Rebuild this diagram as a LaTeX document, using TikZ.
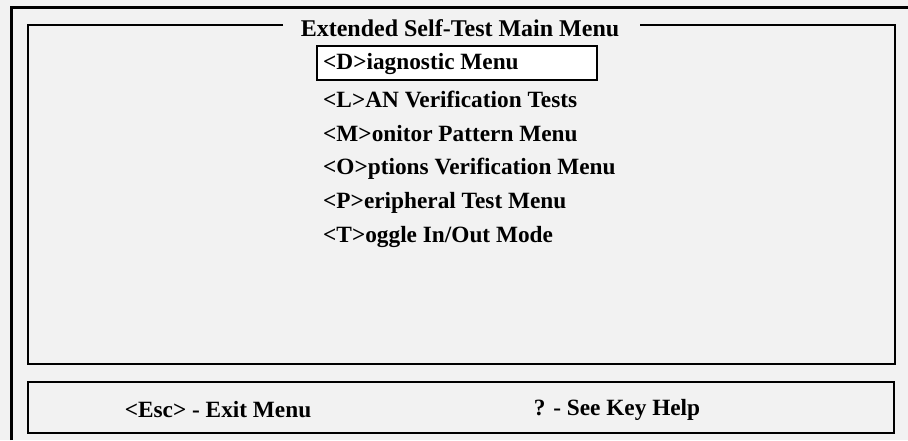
\documentclass[tikz,border=0pt]{standalone}
\usepackage{fontspec}
\setmainfont{Liberation Serif}
\begin{document}
\begin{tikzpicture}[x=1pt,y=-1pt,
  frame/.style={draw=black,line width=2.6pt},
  txt/.style={font=\fontsize{23.3}{25}\bfseries\selectfont,inner sep=0pt,text=black},
  item/.style={txt,anchor=west}]
\useasboundingbox (0,0) rectangle (908,440);
\fill[black!5] (0,0) rectangle (908,440);
% outer frame (top and left only visible)
\draw[line width=3pt] (11,440) -- (11,7) -- (908,7);
% main box
\node[txt,font=\fontsize{24}{26}\bfseries\selectfont] (title) at (460,28) {Extended Self-Test Main Menu};
\coordinate (tl) at (28,25);
\coordinate (tr) at (895,25);
\draw[frame] (283,25) -- (tl) -- (28,364) -- (895,364) -- (tr) -- (640,25);
% selected item box
\node[draw=black,line width=2.4pt,fill=white,minimum width=280pt,minimum height=34pt,inner sep=0pt] (sel) at (457,63) {};
\node[item] (d) at (323,64) {<D>iagnostic Menu};
\node[item] (l) at (323,99) {<L>AN Verification Tests};
\node[item] (m) at (323,134) {<M>onitor Pattern Menu};
\node[item] (o) at (323,169) {<O>ptions Verification Menu};
\node[item] (p) at (323,203) {<P>eripheral Test Menu};
\node[item] (t) at (323,237) {<T>oggle In/Out Mode};
% bottom box
\node[frame,minimum width=866pt,minimum height=51pt,inner sep=0pt] (bot) at (461,407.5) {};
\node[txt] (esc) at (218,410) {<Esc> - Exit Menu};
\node[txt] (help) at (617,410) {? - See Key Help};
\end{tikzpicture}
\end{document}
